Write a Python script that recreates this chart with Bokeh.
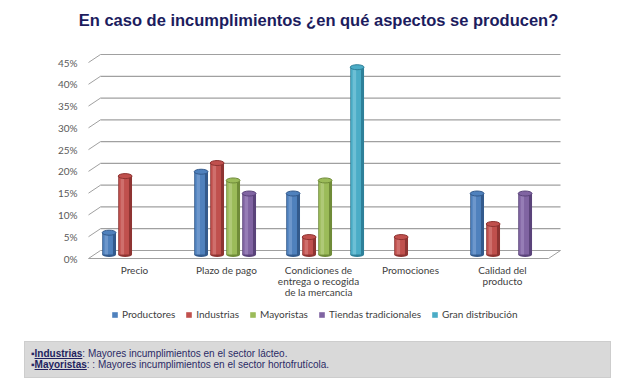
from bokeh.plotting import figure
from bokeh.models import (ColumnDataSource, FixedTicker, Legend, LegendItem,
                          Range1d, Label, Div)
from bokeh.layouts import column
from bokeh.embed import file_html
from bokeh.resources import INLINE

# ---------------- data ----------------
categories = ["Precio", "Plazo de pago",
              "Condiciones de\nentrega o recogida\nde la mercancia",
              "Promociones", "Calidad del\nproducto"]
series = ["Productores", "Industrias", "Mayoristas",
          "Tiendas tradicionales", "Gran distribución"]
productores = [5, 19, 14, None, 14]
industrias = [18, 21, 4, 4, 7]
mayoristas = [None, 17, 17, None, None]
tiendas = [None, 14, None, None, 14]
gran_distribucion = [None, None, 43, None, None]
y_ticks = [0, 5, 10, 15, 20, 25, 30, 35, 40, 45]
y_tick_labels = ["0%", "5%", "10%", "15%", "20%", "25%", "30%", "35%", "40%", "45%"]
title_text = "En caso de incumplimientos ¿en qué aspectos se producen?"
note_bold = ["Industrias", "Mayoristas"]
note_rest = [": Mayores incumplimientos en el sector lácteo.",
             ": : Mayores incumplimientos en el sector hortofrutícola."]

values = [productores, industrias, mayoristas, tiendas, gran_distribucion]
main_c = ["#4F81BD", "#C0504D", "#9BBB59", "#8064A2", "#4BACC6"]
dark_c = ["#335A8C", "#8E3432", "#6F8B38", "#5A437A", "#2E8099"]
light_c = ["#86AAD9", "#DA8886", "#BFD58F", "#A892C6", "#8AD0E2"]

# ---------------- geometry helpers (page pixels) ----------------
PX = 45.0 / 196.0          # percent per pixel
CAT_PX = 92.0              # pixels per category
X0_PAGE, Y0_PAGE = 88.0, 258.0


def X(page_x):
    return (page_x - X0_PAGE) / CAT_PX


def Y(page_y):
    return (Y0_PAGE - page_y) * PX


DX = 12.0 / CAT_PX         # depth offset in x
DY = 8.0 * PX              # depth offset in y
DZ = 4.0 * PX              # bars sit at mid depth
BAR_W = 0.15
STEP = 0.174
SHIFT = 0.072

FONT = "Lato"
n = len(categories)
FL, FR, FT, FB = 40, 620, 0, 330   # frame edges in page pixels
H = 375

p = figure(width=636, height=H, output_backend="svg", toolbar_location=None,
           x_range=Range1d(X(FL), X(FR)), y_range=Range1d(Y(FB), Y(FT)),
           min_border_left=FL, min_border_right=636 - FR,
           min_border_top=FT, min_border_bottom=H - FB)
p.outline_line_color = None
p.xgrid.visible = False
p.ygrid.visible = False

# y axis (drawn at the front-left edge of the floor)
p.yaxis.fixed_location = 0
p.yaxis.ticker = FixedTicker(ticks=y_ticks)
p.yaxis.major_label_overrides = {t: l for t, l in zip(y_ticks, y_tick_labels)}
p.yaxis.axis_line_color = None
p.yaxis.major_tick_line_color = None
p.yaxis.minor_tick_line_color = None
p.yaxis.major_tick_out = 0
p.yaxis.major_tick_in = 0
p.yaxis.major_label_standoff = 11
p.yaxis.major_label_text_font = FONT
p.yaxis.major_label_text_font_size = "10px"
p.yaxis.major_label_text_color = "#595959"

# x axis (drawn just under the floor)
x_centers = [i + 0.5 for i in range(n)]
p.xaxis.fixed_location = Y(260)
p.xaxis.ticker = FixedTicker(ticks=x_centers)
p.xaxis.major_label_overrides = {c: l for c, l in zip(x_centers, categories)}
p.xaxis.axis_line_color = None
p.xaxis.major_tick_line_color = None
p.xaxis.minor_tick_line_color = None
p.xaxis.major_tick_out = 0
p.xaxis.major_tick_in = 0
p.xaxis.major_label_standoff = 3
p.xaxis.major_label_text_font = FONT
p.xaxis.major_label_text_font_size = "10px"
p.xaxis.major_label_text_color = "#404040"
p.xaxis.major_label_text_line_height = 0.95

# 3D back wall gridlines + left diagonals + floor
p.segment(x0=[DX] * len(y_ticks), y0=[t + DY for t in y_ticks],
          x1=[n + DX] * len(y_ticks), y1=[t + DY for t in y_ticks],
          line_color="#A0A0A0", line_width=1.2)
p.segment(x0=[0] * len(y_ticks), y0=y_ticks,
          x1=[DX] * len(y_ticks), y1=[t + DY for t in y_ticks],
          line_color="#A0A0A0", line_width=1)
p.segment(x0=[0, n], y0=[0, 0], x1=[n, n + DX], y1=[0, DY],
          line_color="#A0A0A0", line_width=1)

# cylinders
legend_items = []
for j, (name, vals) in enumerate(zip(series, values)):
    xs, tops = [], []
    for i, v in enumerate(vals):
        if v is None:
            continue
        xs.append(x_centers[i] + SHIFT + (j - 2) * STEP)
        tops.append(v)
    src = ColumnDataSource(dict(
        x=xs, top=[t + DZ for t in tops], bottom=[DZ] * len(xs),
        xm=[x - 0.08 * BAR_W for x in xs], xh=[x - 0.2 * BAR_W for x in xs]))
    p.ellipse(x="x", y="bottom", width=BAR_W, height=5, height_units="screen",
              source=src, fill_color=dark_c[j], line_color=None)
    p.vbar(x="x", bottom="bottom", top="top", width=BAR_W, source=src,
           fill_color=dark_c[j], line_color=None)
    r_main = p.vbar(x="xm", bottom="bottom", top="top", width=0.72 * BAR_W,
                    source=src, fill_color=main_c[j], line_color=None)
    p.vbar(x="xh", bottom="bottom", top="top", width=0.25 * BAR_W, source=src,
           fill_color=light_c[j], fill_alpha=0.55, line_color=None)
    p.ellipse(x="x", y="top", width=BAR_W, height=5, height_units="screen",
              source=src, fill_color=main_c[j], line_color=dark_c[j], line_width=1)
    legend_items.append(LegendItem(label=name, renderers=[r_main]))

legend = Legend(items=legend_items, orientation="horizontal",
                location=(113 - FL - 2, FB - 320),
                spacing=10, glyph_width=7, glyph_height=7, label_standoff=4,
                label_height=12, label_text_font=FONT, label_text_font_size="10px",
                label_text_color="#404040", border_line_color=None,
                background_fill_alpha=0, padding=2, margin=0)
p.add_layout(legend, "center")

# title
p.add_layout(Label(x=X(318), y=Y(19), text=title_text, text_align="center",
                   text_baseline="middle", text_font="Liberation Sans",
                   text_font_style="bold", text_font_size="16.5px",
                   text_color="#1C1C5E"))

# ---------------- footer note (HTML) ----------------
bullet = "<span style='font-size:10px;'>&#9642;</span>"
lines_html = "".join(
    f"<div style='height:11px;line-height:11px;white-space:nowrap;'>{bullet}"
    f"<b><u style='color:#1F1F5F;'>{b}</u></b>{r}</div>"
    for b, r in zip(note_bold, note_rest))
footer_html = (
    "<div style='margin:0 0 0 24px;width:585px;height:35px;"
    "background:#D9D9D9;border:1px solid #CDCDCD;box-sizing:content-box;"
    "font-family:\"Liberation Sans\",Arial,sans-serif;font-size:10px;"
    "color:#2B2B66;padding:0;'>"
    "<div style='padding:6px 0 0 6px;'>" + lines_html + "</div></div>")
footer = Div(text=footer_html, width=636, height=40, margin=(341 - H, 0, 0, 0))

layout = column(p, footer, spacing=0)
open("out.html", "w").write(file_html(layout, INLINE))
